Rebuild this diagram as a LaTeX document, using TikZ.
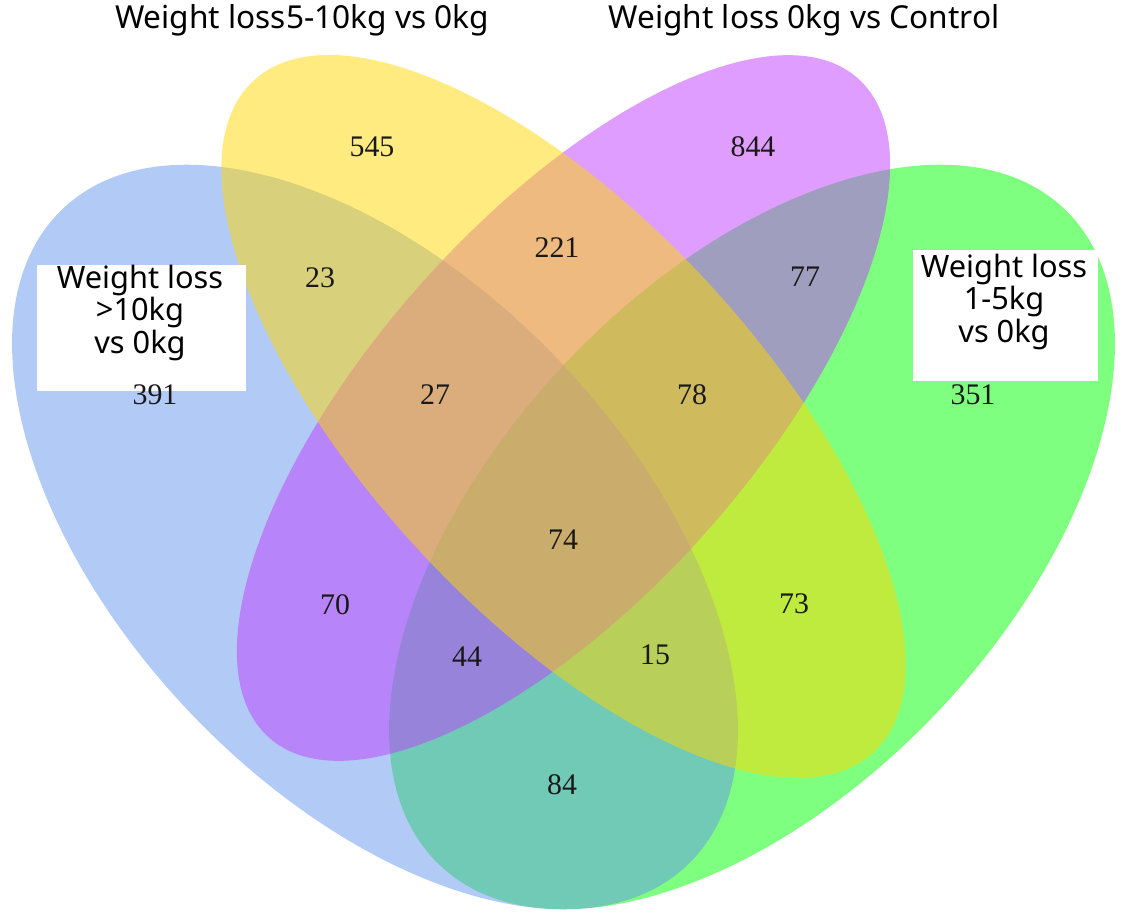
\documentclass[tikz,border=0pt]{standalone}
\usepackage{fontspec}
\setmainfont{Noto Sans}
\newfontfamily\numfont{Liberation Serif}
\usepackage{tikz}
\definecolor{setblue}{HTML}{6495ED}
\definecolor{setgreen}{HTML}{00FF00}
\definecolor{setgold}{HTML}{FFD700}
\definecolor{setorchid}{HTML}{BF3EFF}
\begin{document}
\begin{tikzpicture}[
		setfill/.style={fill=#1, fill opacity=0.5, draw=none},
		count/.style={font=\numfont\fontsize{17}{18}\selectfont, text=black!90, inner sep=1pt},
		title/.style={font=\fontsize{18}{18}\selectfont, inner sep=0pt},
		setname/.style={font=\fontsize{17.5}{16.5}\selectfont, align=center, inner sep=0pt}
	]
		%%%%% START %%%%%
		\useasboundingbox (0, 0) rectangle (22.44, -18.28);
		
		\fill[setfill=setgreen] (15.04, -10.74) ellipse [x radius=9.06, y radius=5.10, rotate=46.4];
		\fill[setfill=setblue] (7.50, -10.74) ellipse [x radius=9.06, y radius=5.10, rotate=-46.4];
		\fill[setfill=setorchid] (11.27, -8.16) ellipse [x radius=8.84, y radius=3.78, rotate=48.2];
		\fill[setfill=setgold] (11.27, -8.33) ellipse [x radius=9.14, y radius=3.94, rotate=-47.3];
		
		\fill[white] (0.74, -5.30) rectangle (4.92, -7.82);
		\fill[white] (18.26, -5.00) rectangle (21.96, -7.62);
		
		\node[title] (t510) at (6.04, -0.40) {Weight loss5-10kg vs 0kg};
		\node[title] (t0) at (16.08, -0.40) {Weight loss 0kg vs Control};
		\node[setname] (t10) at (2.80, -6.26) {Weight loss\\>10kg\\vs 0kg};
		\node[setname] (t15) at (20.08, -6.04) {Weight loss\\1-5kg\\vs 0kg};
		
		\node[count] (n545) at (7.44, -2.94) {545};
		\node[count] (n844) at (15.06, -2.94) {844};
		\node[count] (n23) at (6.40, -5.56) {23};
		\node[count] (n221) at (11.14, -4.96) {221};
		\node[count] (n77) at (16.10, -5.54) {77};
		\node[count] (n391) at (3.10, -7.90) {391};
		\node[count] (n27) at (8.70, -7.90) {27};
		\node[count] (n78) at (13.84, -7.90) {78};
		\node[count] (n351) at (19.46, -7.90) {351};
		\node[count] (n74) at (11.26, -10.80) {74};
		\node[count] (n70) at (6.70, -12.10) {70};
		\node[count] (n73) at (15.88, -12.08) {73};
		\node[count] (n44) at (9.34, -13.14) {44};
		\node[count] (n15) at (13.10, -13.10) {15};
		\node[count] (n84) at (11.24, -15.70) {84};
		
		%%%%% END %%%%%
	\end{tikzpicture}
\end{document}
